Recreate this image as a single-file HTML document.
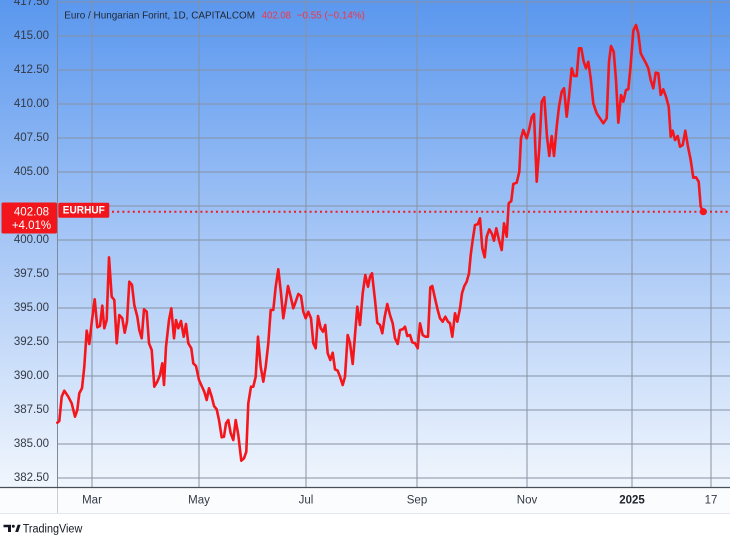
<!DOCTYPE html>
<html>
<head>
<meta charset="utf-8">
<style>
  html, body { margin: 0; padding: 0; background: #ffffff; }
  body { width: 730px; height: 540px; overflow: hidden; }
  svg { display: block; font-family: "Liberation Sans", "DejaVu Sans", sans-serif; }
</style>
</head>
<body>
<svg width="730" height="540" viewBox="0 0 730 540" xmlns="http://www.w3.org/2000/svg">
  <defs>
    <linearGradient id="bg" x1="0" y1="0" x2="0" y2="1">
      <stop offset="0" stop-color="#5a97ee"/>
      <stop offset="0.5" stop-color="#a7c7f6"/>
      <stop offset="1" stop-color="#f1f6fd"/>
    </linearGradient>
  </defs>

  <!-- backgrounds -->
  <rect x="0" y="0" width="730" height="540" fill="#ffffff"/>
  <rect x="0" y="0" width="730" height="487" fill="url(#bg)"/>
  <rect x="0" y="487" width="730" height="26.5" fill="#fbfcfe"/>
  <line x1="0" y1="513.5" x2="730" y2="513.5" stroke="#e3e6ec" stroke-width="1"/>

  <!-- horizontal grid -->
  <g stroke="#8792a3" stroke-width="1" shape-rendering="crispEdges">
    <line x1="57" y1="2" x2="730" y2="2"/>
    <line x1="57" y1="36" x2="730" y2="36"/>
    <line x1="57" y1="70" x2="730" y2="70"/>
    <line x1="57" y1="104" x2="730" y2="104"/>
    <line x1="57" y1="138" x2="730" y2="138"/>
    <line x1="57" y1="172" x2="730" y2="172"/>
    <line x1="57" y1="206" x2="730" y2="206"/>
    <line x1="57" y1="240" x2="730" y2="240"/>
    <line x1="57" y1="274" x2="730" y2="274"/>
    <line x1="57" y1="308" x2="730" y2="308"/>
    <line x1="57" y1="342" x2="730" y2="342"/>
    <line x1="57" y1="376" x2="730" y2="376"/>
    <line x1="57" y1="410" x2="730" y2="410"/>
    <line x1="57" y1="444" x2="730" y2="444"/>
    <line x1="57" y1="478" x2="730" y2="478"/>
  </g>
  <!-- vertical grid -->
  <g stroke="#8792a3" stroke-width="1" shape-rendering="crispEdges">
    <line x1="92" y1="0" x2="92" y2="487"/>
    <line x1="199" y1="0" x2="199" y2="487"/>
    <line x1="306" y1="0" x2="306" y2="487"/>
    <line x1="417" y1="0" x2="417" y2="487"/>
    <line x1="527" y1="0" x2="527" y2="487"/>
    <line x1="632" y1="0" x2="632" y2="487"/>
    <line x1="711" y1="0" x2="711" y2="487"/>
  </g>

  <!-- axis separators -->
  <line x1="57.5" y1="0" x2="57.5" y2="487" stroke="#7f8999" stroke-width="1"/>
  <line x1="57.5" y1="487" x2="57.5" y2="513" stroke="#c9ced8" stroke-width="1"/>
  <line x1="0" y1="487.5" x2="730" y2="487.5" stroke="#4a4f58" stroke-width="1.2"/>

  <!-- y-axis labels -->
  <g font-size="11.5" fill="#333a45" text-anchor="end" dominant-baseline="central">
    <text x="49" y="2">417.50</text>
    <text x="49" y="36">415.00</text>
    <text x="49" y="70">412.50</text>
    <text x="49" y="104">410.00</text>
    <text x="49" y="138">407.50</text>
    <text x="49" y="172">405.00</text>
    <text x="49" y="240">400.00</text>
    <text x="49" y="274">397.50</text>
    <text x="49" y="308">395.00</text>
    <text x="49" y="342">392.50</text>
    <text x="49" y="376">390.00</text>
    <text x="49" y="410">387.50</text>
    <text x="49" y="444">385.00</text>
    <text x="49" y="478">382.50</text>
  </g>

  <!-- x-axis labels -->
  <g font-size="11.5" fill="#333a45" text-anchor="middle" dominant-baseline="central">
    <text x="92" y="500.5">Mar</text>
    <text x="199" y="500.5">May</text>
    <text x="306" y="500.5">Jul</text>
    <text x="417" y="500.5">Sep</text>
    <text x="527" y="500.5">Nov</text>
    <text x="632" y="500.5" font-weight="bold" fill="#1e232b">2025</text>
    <text x="711" y="500.5">17</text>
  </g>

  <!-- title -->
  <g font-size="10.5" dominant-baseline="central">
    <text x="64.3" y="15.5" fill="#1f2733" textLength="190.7" lengthAdjust="spacingAndGlyphs">Euro / Hungarian Forint, 1D, CAPITALCOM</text>
    <text x="261.7" y="15.5" fill="#f23645" textLength="29.3" lengthAdjust="spacingAndGlyphs">402.08</text>
    <text x="296.7" y="15.5" fill="#f23645" textLength="68.3" lengthAdjust="spacingAndGlyphs">−0.55 (−0.14%)</text>
  </g>

  <!-- last price dotted line -->
  <line x1="112" y1="211.7" x2="730" y2="211.7" stroke="#f01c1c" stroke-width="2" stroke-dasharray="2 3.2"/>

  <!-- series -->
  <polyline fill="none" stroke="#f5161b" stroke-width="2.6" stroke-linejoin="round" stroke-linecap="round"
    points="57.3,422.7 59.3,421 61.7,396.7 64.3,390.7 68.3,396.7 71.7,403.3 75,416.7 77.3,410 79.3,393.3 82,388.3 84.3,366.7 86.7,330.7 89.3,344 92,320 94.7,299.3 97.3,327.3 100,326 102.3,305.7 104.3,328.3 106.7,320 109,257.3 111.7,296.7 114.3,300 116.7,343.3 119.3,315 122.3,318.3 124.7,332.7 127,321.7 129.3,281.7 132,285 134.3,305 137.3,316.7 139.3,330 141.7,338.3 144,309.3 146.7,311.7 149,343.3 151.7,350 154.3,386.7 157.3,381.7 160,375 162.3,363.3 164,385 166,346.7 169,320 171.3,308.3 174,338.3 176,320 178.3,328.3 181,321 183.7,336.7 186,324 188.3,343.3 191.3,348.3 193.3,363.3 196,366 199,380 201.7,386 204.3,391.7 206.7,400 209,388.3 211.7,396.7 214,406 216.7,409.3 219,420 221.7,437.3 224,436.7 226,423.3 228.3,420 230.7,433.3 233.3,440 235.7,420 238.3,435 241.3,460.7 244,458.3 246.3,451.7 248.3,403.3 251,386.7 253.3,386.7 255.7,376.7 258,336.7 260.7,366.7 263.3,381.7 265.7,366.7 268.3,343.3 270.7,310 273.3,310 275.7,286.7 278.3,269.3 281,293.3 283.3,318.3 285.7,303.3 288,286 290.7,296.7 293.3,308.3 295.7,301.7 298.3,294 301,296 303.3,311.7 305.7,318.3 308.3,311.7 311,318.3 313.3,343.3 315.7,348.3 318,316 320.7,328.3 323,331.7 325.3,325 327.7,353.3 330.3,360 332.7,352.7 335,369.3 337.7,370.7 340,376.7 342.7,385 345,376.7 347.7,335 350,343 352.7,364 355,335 357.3,306.7 360,325 362.7,293.3 365.3,275 368,286.7 370,276.7 372,273.3 375,300 377.3,322.7 380,325 382.3,333.3 384.7,316.7 387.3,304 390,315 392.7,323.3 395,338.3 397.7,344 400,330 402.7,329.3 405,326.7 407.3,336 410,335 412.3,342.3 415,343.3 417.7,348.3 420,323.3 422.7,335 425.3,336.7 428,336.7 430.3,287.3 432.3,286 435,298.3 437.7,310 440,318.3 442.7,321.7 445.3,316.7 448,321.7 450,323.3 452.3,336.7 455,313.3 457.3,321.7 460,308.3 462,293.3 464.3,286 466.7,281.7 469,273.3 470.7,255 472.7,240 475,225 477.7,224.3 480,218.3 482.3,248.3 484.7,257.3 486.7,236.7 489.3,229.3 492,234 494,240.7 496.3,228.3 499,240 501.7,250 504,223.3 506.7,236.7 508.7,203.3 511.3,201 513.3,184 516.7,182.7 519.3,171.7 521,138.3 523.3,130 526.7,138.3 529,130 531.7,117.3 534,114 536.7,181.7 539.3,148.3 541.7,101.7 544.3,97.3 547,136.7 549.3,156 551.7,136 554,156 556.7,126.7 559,106.7 561.7,91.7 564,88.3 566.7,116.7 569,96.7 571.7,68.3 574,76 576.7,76 579,48.3 581.3,48.3 583.7,61.7 586,68.3 588.3,61.7 590.7,78.3 593.3,103.3 596.7,113.3 600,118.3 603.3,123.3 606.7,118.3 609,61.7 611,46 613.7,51.7 616,80 618.3,122.7 621,95 623.3,101.7 626,90 628.3,89.3 630.7,65 633.3,30.7 636,25 638.3,33.3 640.7,53.3 643.3,58.3 646,63.3 648.3,68.3 650.7,80 653.3,88.3 655.7,72.7 658.3,73.3 660.7,95 663.3,89.3 666,96.7 668.7,106.7 670.7,136.7 672.7,130.7 675,140 677.7,136 680,146.7 682.7,145 685.3,130.7 688,146.7 690.7,160 693.3,177.7 696,177.3 698.7,181.7 700.7,206.7 703.3,211.7"/>
  <circle cx="703.3" cy="211.7" r="3.6" fill="#f5161b"/>

  <!-- price label box -->
  <rect x="1.5" y="202.5" width="55.5" height="31" rx="1.5" fill="#f2161c"/>
  <g font-size="11.5" fill="#ffffff" text-anchor="middle" dominant-baseline="central">
    <text x="31.5" y="212.7">402.08</text>
    <text x="31.5" y="226.2">+4.01%</text>
  </g>
  <rect x="58.3" y="202.7" width="51" height="15" rx="1.5" fill="#f2161c"/>
  <text x="83.8" y="210.4" font-size="11" font-weight="bold" fill="#ffffff" text-anchor="middle" dominant-baseline="central" textLength="42" lengthAdjust="spacingAndGlyphs">EURHUF</text>

  <!-- TradingView logo -->
  <g fill="#131722">
    <path d="M3.5,524.8 H11 V532 H8 V527.3 H3.5 Z"/>
    <circle cx="13.3" cy="526.3" r="1.5"/>
    <path d="M15.2,532 L17.6,524.8 H20.6 L18.2,532 Z"/>
  </g>
  <text x="22.7" y="529.5" font-size="11.5" fill="#131722" dominant-baseline="central" textLength="59.6" lengthAdjust="spacingAndGlyphs">TradingView</text>
</svg>
</body>
</html>
